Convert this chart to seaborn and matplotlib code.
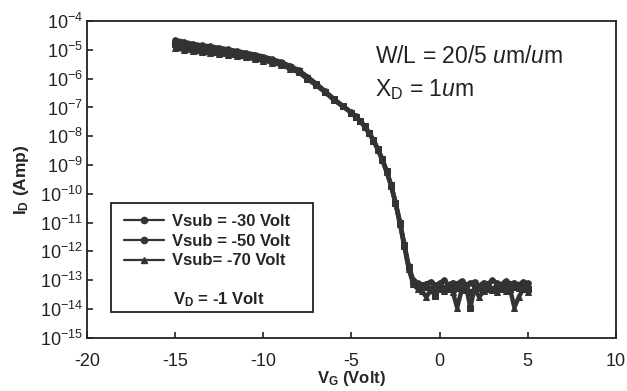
import numpy as np
import pandas as pd
import matplotlib
matplotlib.use('Agg')
import matplotlib.pyplot as plt
from matplotlib.ticker import LogLocator, NullLocator, FixedLocator
from matplotlib.patches import Rectangle
from matplotlib.lines import Line2D
import seaborn as sns

# gate voltage (Volt)
VG = [-15, -14.5, -14, -13.5, -13, -12.5, -12, -11.5, -11, -10.5, -10, -9.5, -9, -8.5, -8,
      -7.5, -7, -6.5, -6, -5.5, -5,
      -4.75, -4.5, -4.25, -4, -3.75, -3.5, -3.25, -3, -2.75, -2.5, -2.25, -2, -1.75, -1.5, -1.25, -1,
      -0.75, -0.5, -0.25, 0, 0.25, 0.5, 0.75, 1, 1.25, 1.5, 1.75, 2, 2.25, 2.5, 2.75, 3,
      3.25, 3.5, 3.75, 4, 4.25, 4.5, 4.75, 5]

# log10 of drain current (Amp)
logID_30 = [-4.65, -4.72, -4.79, -4.84, -4.88, -4.93, -4.98, -5.04, -5.10, -5.16, -5.23, -5.32, -5.42, -5.55, -5.70,
            -5.93, -6.17, -6.43, -6.70, -6.94, -7.17,
            -7.31, -7.46, -7.65, -7.87, -8.13, -8.44, -8.79, -9.21, -9.69, -10.28, -10.97, -11.74, -12.50, -12.98, -13.10, -13.15,
            -13.12, -13.05, -13.18, -13.10, -13.00, -13.15, -13.08, -13.12, -13.02, -13.15, -13.10, -13.05, -13.20, -13.08, -13.12, -13.00,
            -13.10, -13.15, -13.02, -13.12, -13.08, -13.15, -13.05, -13.10]
logID_50 = [-4.80, -4.86, -4.92, -4.96, -5.00, -5.04, -5.08, -5.13, -5.18, -5.24, -5.30, -5.38, -5.47, -5.60, -5.74,
            -5.97, -6.20, -6.45, -6.72, -6.95, -7.18,
            -7.32, -7.47, -7.66, -7.88, -8.14, -8.45, -8.80, -9.22, -9.70, -10.30, -11.00, -11.78, -12.55, -13.05, -13.18, -13.25,
            -13.22, -13.30, -13.55, -13.20, -13.28, -13.18, -13.30, -13.28, -13.25, -13.20, -13.95, -13.22, -13.28, -13.15, -13.25, -13.30,
            -13.20, -13.25, -13.18, -13.30, -13.22, -13.28, -13.25, -13.30]
logID_70 = [-4.95, -5.00, -5.05, -5.09, -5.12, -5.15, -5.18, -5.22, -5.26, -5.32, -5.37, -5.44, -5.52, -5.65, -5.78,
            -6.01, -6.23, -6.47, -6.74, -6.96, -7.19,
            -7.33, -7.48, -7.67, -7.89, -8.15, -8.46, -8.82, -9.24, -9.72, -10.33, -11.04, -11.82, -12.60, -13.12, -13.30, -13.38,
            -13.58, -13.35, -13.40, -13.30, -13.38, -13.32, -13.40, -13.95, -13.35, -13.30, -13.40, -13.32, -13.58, -13.38, -13.30, -13.35,
            -13.40, -13.32, -13.38, -13.30, -13.95, -13.58, -13.30, -13.40]

labels = ['Vsub = -30 Volt', 'Vsub = -50 Volt', 'Vsub= -70 Volt']
markers = ['o', 's', '^']
msizes = [4, 4.5, 4.5]
ink = '#333333'

sns.set_style('ticks')
plt.rcParams['font.family'] = ['Liberation Sans', 'DejaVu Sans']
plt.rcParams['mathtext.fontset'] = 'custom'
plt.rcParams['mathtext.rm'] = 'Liberation Sans'
plt.rcParams['mathtext.it'] = 'Liberation Sans:italic'
plt.rcParams['mathtext.bf'] = 'Liberation Sans:bold'
plt.rcParams['axes.unicode_minus'] = False

fig = plt.figure(figsize=(6.27, 3.91), dpi=100)
ax = fig.add_axes([0.139, 0.136, 0.843, 0.81])

for logs, lab, mk, ms in zip([logID_30, logID_50, logID_70], labels, markers, msizes):
    df = pd.DataFrame({'VG': VG, 'ID': np.power(10.0, logs)})
    sns.lineplot(data=df, x='VG', y='ID', ax=ax, color=ink, linewidth=3.2,
                 marker=mk, markersize=ms, markeredgecolor=ink, estimator=None, sort=False)

ax.set_yscale('log')
ax.set_xlim(-20, 10)
ax.set_ylim(1e-15, 1e-4)
ax.xaxis.set_major_locator(FixedLocator([-20, -15, -10, -5, 0, 5, 10]))
ax.yaxis.set_major_locator(LogLocator(base=10, numticks=20))
ax.yaxis.set_minor_locator(NullLocator())
ax.tick_params(direction='in', length=4, width=1.2, labelsize=13, colors='#222222')
ax.tick_params(axis='x', pad=11)
ax.tick_params(axis='y', pad=3)
for s in ax.spines.values():
    s.set_visible(True)
    s.set_linewidth(1.3)
    s.set_color('#222222')

ax.set_xlabel(r'V$_\mathregular{G}$ (Volt)', fontsize=12, fontweight='bold', labelpad=-1)
ax.set_ylabel(r'I$_\mathregular{D}$ (Amp)', fontsize=12.5, fontweight='bold', labelpad=6)

ax.text(0.544, 0.868, r'W/L = 20/5 $\mathit{u}$m/$\mathit{u}$m', transform=ax.transAxes, fontsize=16.5,
        color='#222222', va='baseline')
ax.text(0.544, 0.762, r'X$_\mathregular{D}$ = 1$\mathit{u}$m', transform=ax.transAxes, fontsize=16.5,
        color='#222222', va='baseline')

# legend box
ax.add_patch(Rectangle((0.045, 0.082), 0.382, 0.344, transform=ax.transAxes, fill=False,
                       edgecolor='#222222', linewidth=1.3, zorder=5))
handles = [Line2D([], [], color=ink, linewidth=1.6, marker=m, markersize=4.5) for m in ['o', 'o', '^']]
leg = ax.legend(handles, labels, loc='upper left', bbox_to_anchor=(0.057, 0.413), frameon=False,
                prop={'weight': 'bold', 'size': 12}, handlelength=2.4, handletextpad=0.5, labelspacing=0.29,
                borderaxespad=0)
ax.text(0.163, 0.12, r'V$_\mathregular{D}$ = -1 Volt', transform=ax.transAxes, fontsize=12, fontweight='bold',
        color='#222222', va='center')

fig.savefig('out.png', dpi=100, facecolor='white')
